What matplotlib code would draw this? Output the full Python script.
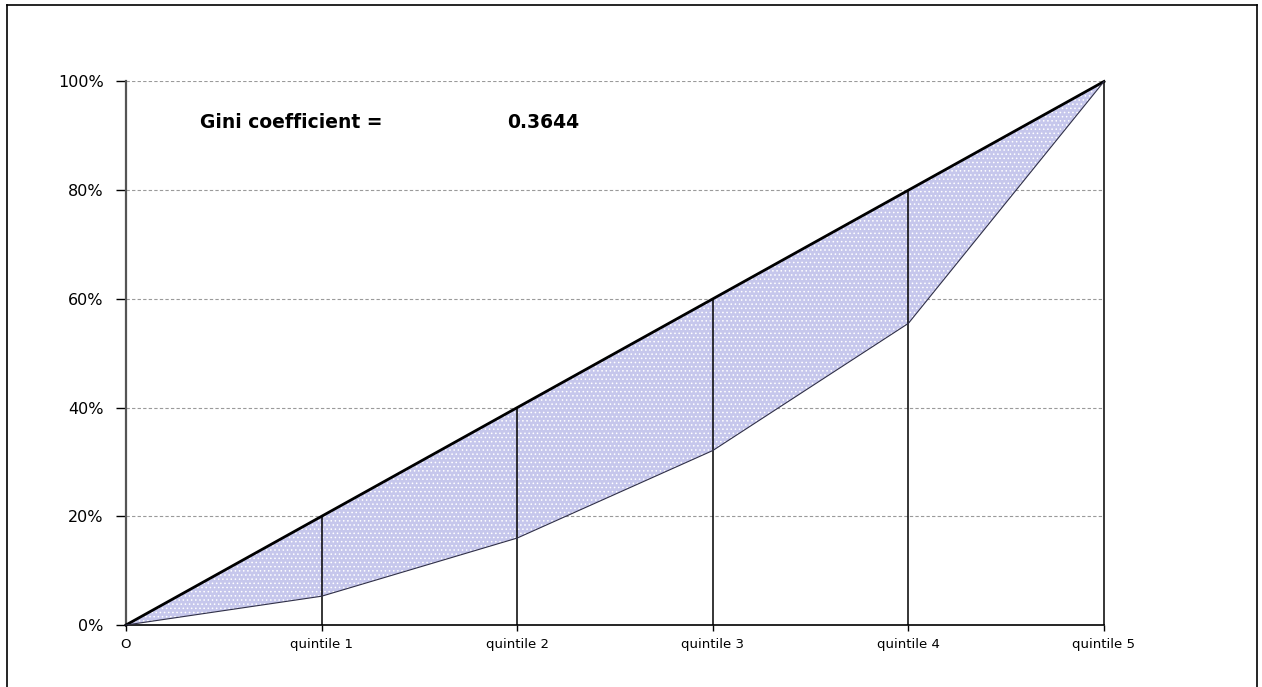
import matplotlib
matplotlib.use("Agg")
from matplotlib import pyplot as plt
from matplotlib.lines import Line2D

plt.rcParams['font.family'] = ['DejaVu Sans']
plt.rcParams['hatch.linewidth'] = 0.6

# Lorenz curve data (cumulative share of population vs income)
labels = ['O', 'quintile 1', 'quintile 2', 'quintile 3', 'quintile 4', 'quintile 5']
population = [0.0, 0.2, 0.4, 0.6, 0.8, 1.0]
income = [0.0, 0.053, 0.160, 0.321, 0.555, 1.0]
equality = population
gini_value = '0.3644'

fig = plt.figure(figsize=(12.62, 6.87), dpi=100)
ax = fig.add_axes([0.0998, 0.0902, 0.775, 0.7912])

# outer frame around the whole chart
for xs, ys in [([0.0055, 0.0055], [-0.01, 0.9927]),
               ([0.0055, 0.9960], [0.9927, 0.9927]),
               ([0.9960, 0.9960], [-0.01, 0.9927])]:
    fig.add_artist(Line2D(xs, ys, transform=fig.transFigure, color='black', lw=1.2))

# shaded area between equality line and Lorenz curve
ax.fill_between(population, income, equality, facecolor='#c6c7ec', edgecolor='white',
                hatch='....', linewidth=0, zorder=1)

# dashed gridlines
for v in [0.2, 0.4, 0.6, 0.8, 1.0]:
    ax.axhline(v, color='#9a9a9a', lw=0.8, ls=(0, (3, 2)), zorder=0)

# vertical quintile lines up to the equality line
ax.vlines(population[1:], 0, equality[1:], color='black', lw=1.1, zorder=3, clip_on=False)

ax.plot(population, equality, color='black', lw=2.0, zorder=4, clip_on=False)
ax.plot(population, income, color='#303048', lw=0.8, zorder=4, clip_on=False)

ax.set_xlim(0, 1)
ax.set_ylim(0, 1)
ax.set_xticks(population)
ax.set_xticklabels(labels, fontsize=9.5)
ax.set_yticks([0, 0.2, 0.4, 0.6, 0.8, 1.0])
ax.set_yticklabels(['0%', '20%', '40%', '60%', '80%', '100%'], fontsize=11.5)
ax.tick_params(axis='y', length=7, width=1, pad=9)
ax.tick_params(axis='x', length=4, width=1, pad=5)
for s in ['top', 'right']:
    ax.spines[s].set_visible(False)
ax.spines['left'].set_linewidth(1.6)
ax.spines['left'].set_color('#555555')
ax.spines['bottom'].set_linewidth(1.2)

ax.text(0.076, 0.925, 'Gini coefficient =', fontsize=13.5, fontweight='bold',
        transform=ax.transAxes, va='center')
ax.text(0.39, 0.925, gini_value, fontsize=13.5, fontweight='bold',
        transform=ax.transAxes, va='center')

plt.savefig('out.png', dpi=100)
